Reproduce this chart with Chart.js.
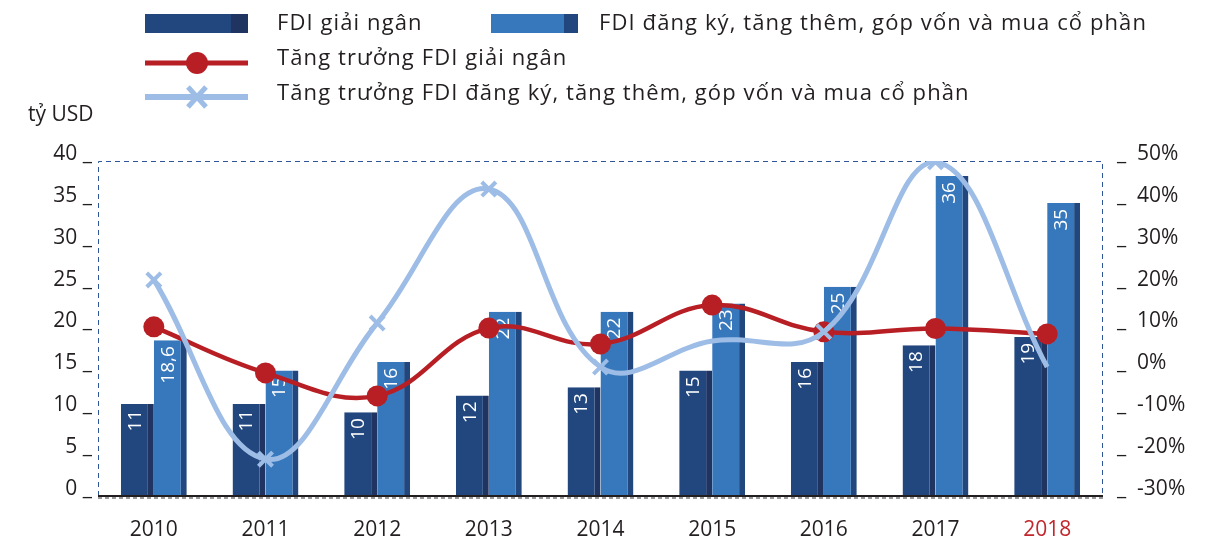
<!DOCTYPE html>
<html lang="vi">
<head>
<meta charset="UTF-8">
<title>FDI giải ngân và đăng ký</title>
<script src="https://cdn.jsdelivr.net/npm/chart.js"></script>
<style>
  body { margin: 0; background: #fff; font-family: "Open Sans", sans-serif; color: #231f20; }
  .wrap { position: relative; width: 1216px; height: 540px; }
  #chart { position: absolute; left: 0; top: 0; }
  .lg { position: absolute; font-size: 22px; letter-spacing: 1.1px; line-height: 1; white-space: nowrap; }
  .unit { position: absolute; font-size: 21px; line-height: 1; white-space: nowrap; }
  .sw { position: absolute; height: 19px; box-sizing: border-box; }
  .ico { position: absolute; }
</style>
</head>
<body>
<div class="wrap">
  <canvas id="chart" width="1216" height="540"></canvas>

  <div class="sw" style="left:145px;top:14px;width:103px;background:#22477f;border-right:17px solid #1f3461"></div>
  <div class="lg" style="left:277px;top:10px">FDI giải ngân</div>
  <div class="sw" style="left:491px;top:14px;width:87px;background:#3778bc;border-right:14px solid #22477f"></div>
  <div class="lg" style="left:599px;top:10px">FDI đăng ký, tăng thêm, góp vốn và mua cổ phần</div>

  <svg class="ico" style="left:145px;top:50px" width="103" height="26">
    <line x1="0" y1="13" x2="103" y2="13" stroke="#b81f25" stroke-width="5"/>
    <circle cx="52" cy="13" r="11" fill="#b81f25"/>
  </svg>
  <div class="lg" style="left:277px;top:45px">Tăng trưởng FDI giải ngân</div>

  <svg class="ico" style="left:145px;top:84px" width="103" height="26">
    <line x1="0" y1="13" x2="103" y2="13" stroke="#9dbde6" stroke-width="6"/>
    <line x1="43" y1="3" x2="61" y2="23" stroke="#9dbde6" stroke-width="5"/>
    <line x1="61" y1="3" x2="43" y2="23" stroke="#9dbde6" stroke-width="5"/>
  </svg>
  <div class="lg" style="left:277px;top:80px">Tăng trưởng FDI đăng ký, tăng thêm, góp vốn và mua cổ phần</div>

  <div class="unit" style="left:28px;top:103px">tỷ USD</div>
</div>

<script>
const years = ['2010', '2011', '2012', '2013', '2014', '2015', '2016', '2017', '2018'];
const highlightYear = '2018';

// tỷ USD (bar heights as drawn) and the labels printed in the bars
const disbursed = [11, 11, 10, 12, 13, 15, 16, 18, 19];
const disbursedText = ['11', '11', '10', '12', '13', '15', '16', '18', '19'];
const registered = [18.6, 15, 16, 22, 22, 23, 25, 38.2, 35];
const registeredText = ['18,6', '15', '16', '22', '22', '23', '25', '36', '35'];

// % growth
const growthDisbursed = [10.4, -0.6, -6.1, 10.1, 6.3, 15.6, 9.2, 10, 8.7];
const growthRegistered = [21.6, -21.2, 11.3, 43.3, 0.8, 7, 9.2, 49.8, 0.8];

const leftTicks = [0, 40, 5];
const rightTicks = [-30, 50, 10];

const TXT = '#231f20';
const RED = '#b81f25';
const BLUE_LINE = '#9dbde6';
const FONT = '"Open Sans", sans-serif';

// dashed frame round the plot and the solid base line
const framePlugin = {
    id: 'frame',
    beforeDatasetsDraw(chart) {
        const { ctx, chartArea: a } = chart;
        ctx.save();
        ctx.strokeStyle = '#2e5597';
        ctx.lineWidth = 1;
        ctx.setLineDash([5, 4]);
        ctx.beginPath();
        ctx.moveTo(a.left + 0.5, a.bottom);
        ctx.lineTo(a.left + 0.5, a.top + 0.5);
        ctx.lineTo(a.right - 0.5, a.top + 0.5);
        ctx.lineTo(a.right - 0.5, a.bottom);
        ctx.stroke();
        ctx.restore();
    },
    afterDatasetsDraw(chart) {
        const { ctx, chartArea: a } = chart;
        ctx.save();
        ctx.strokeStyle = '#231f20';
        ctx.lineWidth = 2;
        ctx.beginPath();
        ctx.moveTo(a.left, a.bottom);
        ctx.lineTo(a.right, a.bottom);
        ctx.stroke();
        ctx.strokeStyle = '#9a9a9a';
        ctx.setLineDash([4, 3]);
        ctx.beginPath();
        ctx.moveTo(a.left, a.bottom + 2);
        ctx.lineTo(a.right, a.bottom + 2);
        ctx.stroke();
        ctx.restore();
    }
};

// rotated white value labels inside the bars
const barLabels = {
    id: 'barLabels',
    afterDatasetDraw(chart, args) {
        const ds = chart.data.datasets[args.index];
        if (ds.type !== 'bar') return;
        const { ctx } = chart;
        ctx.save();
        ctx.fillStyle = '#fff';
        ctx.font = '19px ' + FONT;
        ctx.textAlign = 'right';
        ctx.textBaseline = 'middle';
        args.meta.data.forEach((bar, i) => {
            ctx.save();
            ctx.translate(bar.x - 2, bar.y + 6);
            ctx.rotate(-Math.PI / 2);
            ctx.fillText(ds.valueText[i], 0, 0);
            ctx.restore();
        });
        ctx.restore();
    }
};

new Chart(document.getElementById('chart'), {
    data: {
        labels: years,
        datasets: [
            {
                type: 'line',
                label: 'Tăng trưởng FDI giải ngân',
                data: growthDisbursed,
                yAxisID: 'y1',
                borderColor: RED,
                borderWidth: 4.5,
                tension: 0.4,
                pointRadius: 10.5,
                pointBackgroundColor: RED,
                pointBorderWidth: 0,
                order: 2
            },
            {
                type: 'line',
                label: 'Tăng trưởng FDI đăng ký, tăng thêm, góp vốn và mua cổ phần',
                data: growthRegistered,
                yAxisID: 'y1',
                borderColor: BLUE_LINE,
                borderWidth: 5,
                tension: 0.4,
                pointStyle: 'crossRot',
                pointRadius: [10, 10, 10, 10, 10, 0, 10, 10, 0],
                pointBorderColor: BLUE_LINE,
                pointBorderWidth: 4,
                order: 1
            },
            {
                type: 'bar',
                label: 'FDI giải ngân',
                data: disbursed,
                valueText: disbursedText,
                yAxisID: 'y',
                backgroundColor: '#22477f',
                borderColor: '#1f3461',
                borderWidth: { top: 0, right: 6, bottom: 0, left: 0 },
                borderSkipped: false,
                categoryPercentage: 0.59,
                barPercentage: 1,
                order: 3
            },
            {
                type: 'bar',
                label: 'FDI đăng ký, tăng thêm, góp vốn và mua cổ phần',
                data: registered,
                valueText: registeredText,
                yAxisID: 'y',
                backgroundColor: '#3778bc',
                borderColor: '#22477f',
                borderWidth: { top: 0, right: 6, bottom: 0, left: 0 },
                borderSkipped: false,
                categoryPercentage: 0.59,
                barPercentage: 1,
                order: 3
            }
        ]
    },
    options: {
        responsive: false,
        animation: false,
        layout: { padding: { top: 161, left: 0, right: 0, bottom: 0 } },
        plugins: { legend: { display: false }, tooltip: { enabled: false } },
        scales: {
            x: {
                grid: { display: false, drawTicks: false, tickLength: 0 },
                border: { display: false },
                ticks: {
                    padding: 21,
                    font: { family: FONT, size: 21 },
                    color: c => years[c.index] === highlightYear ? '#c1272d' : TXT
                },
                afterFit: s => { s.height = 44; }
            },
            y: {
                position: 'left',
                min: leftTicks[0],
                max: leftTicks[1],
                grid: { display: false, drawTicks: false, tickLength: 0 },
                border: { display: false },
                ticks: {
                    stepSize: leftTicks[2],
                    padding: 6,
                    labelOffset: -7,
                    font: { family: FONT, size: 21 },
                    color: TXT,
                    callback: v => v + ' _'
                },
                afterFit: s => { s.width = 98; }
            },
            y1: {
                position: 'right',
                min: rightTicks[0],
                max: rightTicks[1],
                grid: { display: false, drawTicks: false, tickLength: 0 },
                border: { display: false },
                ticks: {
                    stepSize: rightTicks[2],
                    padding: 14,
                    labelOffset: -7,
                    font: { family: FONT, size: 21 },
                    color: TXT,
                    callback: v => '_  ' + v + '%'
                },
                afterFit: s => { s.width = 113; }
            }
        }
    },
    plugins: [framePlugin, barLabels]
});
</script>
</body>
</html>
